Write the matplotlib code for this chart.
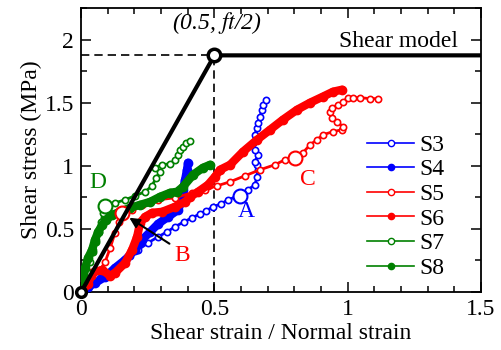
import matplotlib
matplotlib.use("Agg")
import matplotlib.pyplot as plt
from matplotlib.lines import Line2D
from matplotlib.ticker import MultipleLocator, FormatStrFormatter

plt.rcParams['font.family'] = ['Liberation Serif', 'DejaVu Serif']
plt.rcParams['mathtext.fontset'] = 'stix'

# shear model (bilinear)
model_x = [0, 0.5, 1.5]
model_y = [0, 1.875, 1.875]

# test data
s3_x = [0, 0.019, 0.041, 0.071, 0.109, 0.146, 0.184, 0.214, 0.251, 0.289, 0.322, 0.352,
        0.386, 0.416, 0.446, 0.469, 0.495, 0.525, 0.551, 0.581, 0.596,
        0.626, 0.652, 0.66, 0.664, 0.66, 0.652, 0.664, 0.652, 0.645, 0.652, 0.66, 0.664,
        0.671, 0.679, 0.682, 0.694]
s3_y = [0, 0.032, 0.063, 0.111, 0.159, 0.222, 0.286, 0.333, 0.389, 0.437, 0.476, 0.516,
        0.556, 0.587, 0.619, 0.643, 0.675, 0.698, 0.73, 0.754, 0.762,
        0.81, 0.849, 0.913, 0.968, 1.008, 1.03, 1.087, 1.127, 1.183, 1.246, 1.30, 1.34,
        1.39, 1.444, 1.484, 1.524]

s4_x = [0, 0.026, 0.052, 0.09, 0.127, 0.165, 0.202, 0.229, 0.259, 0.289, 0.326, 0.364,
        0.379, 0.382, 0.39, 0.397, 0.401]
s4_y = [0, 0.04, 0.071, 0.119, 0.19, 0.254, 0.333, 0.413, 0.476, 0.54, 0.595, 0.651,
        0.73, 0.81, 0.889, 0.968, 1.024]

s5_x = [0, 0.015, 0.041, 0.071, 0.09, 0.109, 0.127, 0.142, 0.154, 0.191, 0.229, 0.289,
        0.352, 0.416, 0.465, 0.51, 0.559, 0.615, 0.671, 0.727, 0.765, 0.802, 0.832, 0.859,
        0.885, 0.907, 0.945, 0.979, 0.982, 0.96, 0.941, 0.934, 0.941, 0.964, 0.982, 1.001,
        1.02, 1.046, 1.084, 1.114]
s5_y = [0, 0.071, 0.127, 0.175, 0.238, 0.349, 0.468, 0.556, 0.627, 0.651, 0.69, 0.73,
        0.746, 0.786, 0.81, 0.841, 0.873, 0.921, 0.968, 1.008, 1.048, 1.071, 1.103, 1.167,
        1.206, 1.246, 1.27, 1.286, 1.31, 1.349, 1.381, 1.429, 1.46, 1.484, 1.508, 1.54,
        1.54, 1.54, 1.532, 1.532]

s6_x = [0, 0.026, 0.041, 0.079, 0.109, 0.127, 0.165, 0.191, 0.21, 0.221, 0.24, 0.266,
        0.304, 0.352, 0.39, 0.409, 0.439, 0.476, 0.502, 0.521, 0.559, 0.607, 0.66, 0.709,
        0.757, 0.81, 0.859, 0.907, 0.945, 0.979]
s6_y = [0, 0.063, 0.151, 0.175, 0.127, 0.151, 0.23, 0.333, 0.437, 0.548, 0.595, 0.627,
        0.635, 0.675, 0.714, 0.754, 0.794, 0.849, 0.913, 0.968, 1.008, 1.111, 1.206, 1.286,
        1.365, 1.444, 1.5, 1.548, 1.587, 1.603]

s7_x = [0, 0.011, 0.022, 0.034, 0.045, 0.056, 0.067, 0.075, 0.082, 0.09, 0.127, 0.165,
        0.202, 0.24, 0.266, 0.281, 0.296, 0.277, 0.304, 0.334, 0.352, 0.364, 0.371, 0.382,
        0.394, 0.409]
s7_y = [0, 0.079, 0.159, 0.238, 0.317, 0.397, 0.476, 0.556, 0.627, 0.683, 0.706, 0.73,
        0.762, 0.794, 0.841, 0.905, 0.952, 0.984, 1.008, 1.016, 1.048, 1.087, 1.127, 1.151,
        1.183, 1.198]

s8_x = [0, 0.008, 0.015, 0.026, 0.041, 0.052, 0.064, 0.079, 0.094, 0.116, 0.146, 0.184,
        0.221, 0.259, 0.296, 0.334, 0.36, 0.382, 0.42, 0.457, 0.484]
s8_y = [0, 0.095, 0.19, 0.27, 0.333, 0.413, 0.476, 0.532, 0.571, 0.611, 0.635, 0.667,
        0.69, 0.714, 0.754, 0.786, 0.794, 0.833, 0.929, 0.984, 1.008]

# labelled points A-D
pts_x = [0.596, 0.154, 0.802, 0.09]
pts_y = [0.762, 0.627, 1.063, 0.683]

BLUE, RED, GREEN = '#0000ff', '#ff0000', '#008000'
FS = 17

fig = plt.figure(figsize=(5.01, 3.5), dpi=100)
ax = fig.add_axes([0.162, 0.166, 0.798, 0.811])

series = [
    (s3_x, s3_y, BLUE, False, 'S3'),
    (s4_x, s4_y, BLUE, True, 'S4'),
    (s5_x, s5_y, RED, False, 'S5'),
    (s6_x, s6_y, RED, True, 'S6'),
    (s7_x, s7_y, GREEN, False, 'S7'),
    (s8_x, s8_y, GREEN, True, 'S8'),
]
handles = []
for xs, ys, c, filled, lab in series:
    if filled:
        ax.plot(xs, ys, '-', color=c, lw=6, solid_capstyle='round',
                solid_joinstyle='round', zorder=3)
        ax.plot(xs, ys, 'o', color=c, ms=6, zorder=3)
        handles.append(Line2D([], [], color=c, lw=1.2, marker='o', ms=4.5, label=lab))
    else:
        ax.plot(xs, ys, '-', color=c, lw=2, zorder=3)
        ax.plot(xs, ys, 'o', mfc='white', mec=c, mew=1.2, ms=4.5, ls='none', zorder=3)
        handles.append(Line2D([], [], color=c, lw=1.2, marker='o', ms=4.5,
                              mfc='white', mec=c, label=lab))

# dashed guides
ax.plot([0, 0.5], [1.875, 1.875], color='black', lw=1.2, dashes=(5, 3), zorder=2)
ax.plot([0.5, 0.5], [0, 1.875], color='black', lw=1.2, dashes=(5, 3), zorder=2)

# shear model
ax.plot(model_x, model_y, '-', color='black', lw=3, zorder=5)
ax.plot([0.5], [1.875], 'o', ms=9, mfc='white', mec='black', mew=2.5, zorder=6)
ax.plot([0], [0], 'o', ms=7, mfc='white', mec='black', mew=2.5, zorder=6, clip_on=False)

ax.text(0.51, 2.03, '(0.5, $ft$/2)', fontsize=FS, style='italic', ha='center', va='bottom')
ax.text(1.415, 1.9, 'Shear model', fontsize=FS, ha='right', va='bottom')

# A-D markers and labels
cols = [BLUE, RED, RED, GREEN]
for px, py, c in zip(pts_x, pts_y, cols):
    ax.plot([px], [py], 'o', ms=10, mfc='white', mec=c, mew=1.5, zorder=4)
ax.text(0.62, 0.635, 'A', color=BLUE, fontsize=FS, ha='center', va='center')
ax.text(0.38, 0.29, 'B', color=RED, fontsize=FS, ha='center', va='center')
ax.text(0.85, 0.89, 'C', color=RED, fontsize=FS, ha='center', va='center')
ax.text(0.064, 0.865, 'D', color=GREEN, fontsize=FS, ha='center', va='center')
ax.annotate('', xy=(0.172, 0.6), xytext=(0.34, 0.37),
            arrowprops=dict(arrowstyle='-|>', color='black', lw=1.5,
                            mutation_scale=15), zorder=7)

ax.set_xlim(0, 1.5)
ax.set_ylim(0, 2.25)
ax.xaxis.set_major_locator(MultipleLocator(0.5))
ax.xaxis.set_minor_locator(MultipleLocator(0.1))
ax.yaxis.set_major_locator(MultipleLocator(0.5))
ax.yaxis.set_minor_locator(MultipleLocator(0.25))
ax.xaxis.set_major_formatter(FormatStrFormatter('%g'))
ax.yaxis.set_major_formatter(FormatStrFormatter('%g'))
ax.tick_params(which='both', direction='in', top=True, right=True, labelsize=FS, pad=5)
ax.tick_params(which='major', length=7, width=1.1)
ax.tick_params(which='minor', length=4, width=1.1)
for sp in ax.spines.values():
    sp.set_linewidth(1.3)

ax.set_xlabel('Shear strain / Normal strain', fontsize=FS, labelpad=2)
ax.set_ylabel('Shear stress (MPa)', fontsize=FS, labelpad=2)

ax.legend(handles=handles, loc='upper left', bbox_to_anchor=(0.715, 0.555),
          frameon=False, fontsize=FS, handlelength=2.0, handletextpad=0.2,
          labelspacing=0.13, borderpad=0, borderaxespad=0)

fig.savefig('out.png', dpi=100)
